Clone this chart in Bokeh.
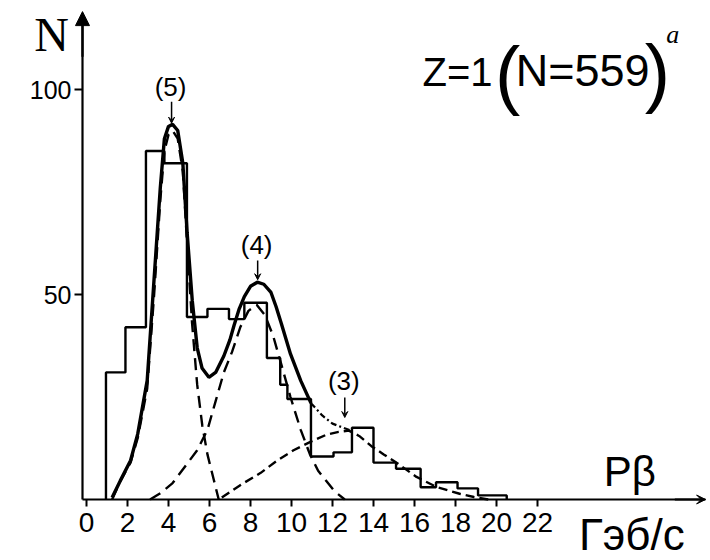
from bokeh.plotting import figure
from bokeh.models import Label, Arrow, VeeHead, NormalHead, FixedTicker, Range1d
from bokeh.embed import file_html
from bokeh.resources import INLINE

# ---- data ----
# histogram (step outline): bin edges in GeV/c and counts N
hist_edges = [0.95, 1.9, 2.9, 3.8, 4.9, 5.9, 6.95, 7.7, 8.8, 9.45, 9.8,
              10.95, 12.05, 12.95, 14.0, 15.1, 16.3, 17.05, 18.1, 19.1, 20.5]
hist_counts = [31, 42, 85, 82, 44.5, 46.5, 44, 48, 34.5, 28, 24.5,
               10.5, 11.5, 17.5, 9, 7.5, 3, 4.2, 2.7, 1]

# total fitted curve (solid, then dash-dot tail)
total_x = [1.25, 1.65, 2.15, 2.5, 2.96, 3.3, 3.6, 3.8, 4.0, 4.2, 4.45, 4.7,
           4.91, 5.16, 5.4, 5.64, 5.97, 6.3, 6.7, 7.0, 7.2, 7.45, 7.7, 8.0,
           8.33, 8.65, 9.0, 9.25, 9.5, 9.95, 10.45, 10.95,
           11.5, 12.0, 12.9]
total_y = [0.5, 4.6, 9.5, 16, 29, 54, 76, 88, 91, 91.5, 90, 82,
           65, 48.5, 37, 32, 29.8, 31, 35, 39, 42.5, 46.5, 49.5, 52,
           53, 52.5, 50.5, 47, 43, 35.5, 29, 23.5,
           20.5, 18.5, 16.8]
solid_until = 10.95

# component (5)
c5_x = [1.25, 1.65, 2.15, 2.5, 2.96, 3.3, 3.6, 3.8, 4.0, 4.2, 4.45, 4.7,
        4.9, 5.15, 5.4, 5.65, 5.9, 6.2, 6.45]
c5_y = [0, 4.5, 9, 15, 27, 50, 73, 85, 89, 90, 88, 80,
        63, 43, 28, 18, 11, 5, 0]

# component (4)
c4_x = [3.1, 3.6, 4.2, 4.8, 5.4, 5.9, 6.3, 6.7, 7.1, 7.5, 7.9, 8.3, 8.7,
        9.1, 9.5, 9.95, 10.45, 10.9, 11.3, 11.7, 12.1, 12.6]
c4_y = [0, 1.5, 4, 8, 12, 17, 24, 31, 36, 42, 46, 47.5, 45,
        40, 33, 25, 17, 11, 7, 4.5, 2, 0]

# component (3)
c3_x = [6.6, 7.5, 8.5, 9.3, 10.1, 10.9, 11.7, 12.3, 12.8, 13.3, 13.9,
        14.5, 15.2, 16.1, 17.1, 18.2, 18.9, 19.6]
c3_y = [0.5, 3.5, 6.5, 9.5, 12, 14, 15.8, 16.5, 16.8, 15.5, 13,
        11, 8.7, 5.5, 3, 1.4, 0.6, 0]

x_ticks = [0, 2, 4, 6, 8, 10, 12, 14, 16, 18, 20, 22]
y_ticks = [50, 100]

SANS = "Liberation Sans"
SERIF = "Liberation Serif"

X0, X1 = -0.195, 30.2   # drawn extent of the momentum axis
Y0, Y1 = 0, 118         # drawn extent of the N axis

p = figure(width=710, height=560, output_backend="svg", toolbar_location=None,
           x_range=Range1d(-4.195, 30.44), y_range=Range1d(-14.88, 121.71),
           min_border_left=0, min_border_right=0, min_border_top=0,
           min_border_bottom=0)
p.outline_line_color = None
p.grid.visible = False
p.background_fill_color = "white"
p.border_fill_color = "white"

for ax in (p.xaxis[0], p.yaxis[0]):
    ax.axis_line_width = 2.2
    ax.axis_line_color = "black"
    ax.major_tick_line_width = 2
    ax.major_tick_line_color = "black"
    ax.major_tick_in = 0
    ax.minor_tick_out = 0
    ax.minor_tick_in = 0
    ax.major_label_text_color = "black"
    ax.major_label_text_font = SANS

p.xaxis.fixed_location = 0
p.xaxis.bounds = (X0, X1)
p.xaxis.ticker = FixedTicker(ticks=x_ticks)
p.xaxis.major_tick_out = 7
p.xaxis.major_label_standoff = 7
p.xaxis.major_label_text_font_size = "28px"

p.yaxis.fixed_location = X0
p.yaxis.bounds = (Y0, Y1)
p.yaxis.ticker = FixedTicker(ticks=y_ticks)
p.yaxis.major_tick_out = 8
p.yaxis.major_label_standoff = 3
p.yaxis.major_label_text_font_size = "25px"

# histogram outline
step_x = [hist_edges[0]] + hist_edges
step_y = [0] + hist_counts + [0]
p.step(step_x, step_y, mode="after", line_color="black", line_width=2.4)

# components
p.line(c5_x, c5_y, line_color="black", line_width=2.4, line_dash="12 7")
p.line(c4_x, c4_y, line_color="black", line_width=2.4, line_dash="12 7")
p.line(c3_x, c3_y, line_color="black", line_width=2.4, line_dash="9 5")

# total curve
sx = [x for x in total_x if x <= solid_until]
sy = total_y[:len(sx)]
tx = total_x[len(sx) - 1:]
ty = total_y[len(sx) - 1:]
p.line(sx, sy, line_color="black", line_width=3.4)
p.line(tx, ty, line_color="black", line_width=2.2, line_dash="6 3 2 3")

# axis arrows
p.add_layout(Arrow(end=NormalHead(size=14, fill_color="black", line_color="black"),
                   x_start=X0, y_start=108, x_end=X0, y_end=Y1 + 1,
                   line_width=2.2, line_color="black"))
p.add_layout(Arrow(end=VeeHead(size=9, fill_color="black", line_color="black"),
                   x_start=X1 - 1.5, y_start=0, x_end=X1, y_end=0,
                   line_width=2.2, line_color="black"))

# peak markers
for (lx, ly, ay0, ay1, txt) in [(4.1, 100.7, 97.0, 91.8, "(5)"),
                                 (8.3, 62.0, 58.3, 53.6, "(4)"),
                                 (12.55, 28.8, 24.9, 20.0, "(3)")]:
    p.add_layout(Label(x=lx, y=ly, text=txt, text_align="center",
                       text_baseline="middle", text_font=SANS,
                       text_font_size="26px", text_color="black"))
    p.add_layout(Arrow(end=VeeHead(size=6, fill_color="black", line_color="black"),
                       x_start=lx + 0.05, y_start=ay0, x_end=lx + 0.05, y_end=ay1,
                       line_width=1.5, line_color="black"))

def lab(x, y, text, size, font=SANS, style="normal"):
    p.add_layout(Label(x=x, y=y, text=text, text_align="center",
                       text_baseline="middle", text_font=font,
                       text_font_size=size, text_font_style=style,
                       text_color="black"))

lab(-1.7, 113.5, "N", "48px", SERIF)
lab(18.1, 104.3, "Z=1", "40px")
lab(20.55, 103.8, "(", "76px")
lab(24.2, 104.6, "N=559", "45px")
lab(27.85, 104.3, ")", "76px")
lab(28.6, 113.5, "a", "26px", SERIF, "italic")
lab(26.5, 6.8, "Pβ", "42px")
lab(26.6, -8.5, "Гэб/с", "44px")

open("out.html", "w").write(file_html(p, INLINE))
